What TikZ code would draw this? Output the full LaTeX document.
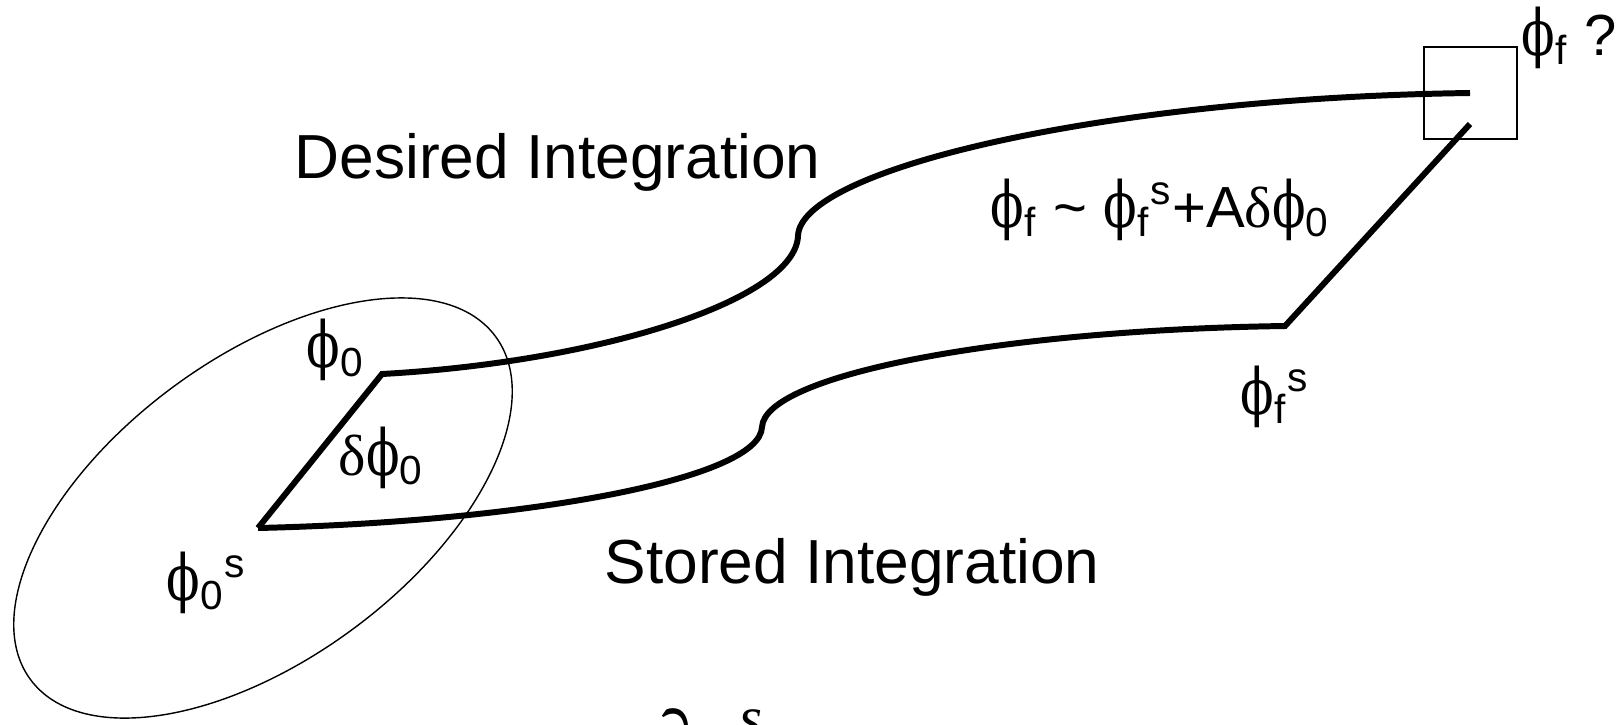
\documentclass[tikz,border=0pt]{standalone}
\usepackage{fontspec}
\setmainfont{Liberation Sans}
\newfontfamily\greekf{DejaVu Serif}
\newfontfamily\serif{Liberation Serif}
\newcommand\phiv{{\greekf\scalebox{0.85}[1.1]{ϕ}}}
\newcommand\deltav{{\serif δ}}

\begin{document}
\begin{tikzpicture}[x=0.01cm, y=-0.01cm,
  every node/.style={font=\fontsize{16.5}{20}\selectfont, inner sep=0pt},
  lbl/.style={anchor=base west},
  title/.style={lbl, font=\fontsize{17.7}{21}\selectfont},
  path/.style={line width=1.7pt, line join=miter},
  thin/.style={line width=0.4pt}
]
  \useasboundingbox (0,0) rectangle (1618,724);
  \clip (0,0) rectangle (1618,724);

  % end points of the two integrations
  \coordinate (p0) at (382,374);
  \coordinate (p0s) at (258,528);
  \coordinate (pbend) at (798,236);
  \coordinate (sbend) at (762,427);
  \coordinate (pf) at (1470,93);
  \coordinate (pfs) at (1285,326);
  \coordinate (pfsend) at (1470,124);

  % neighbourhood of the initial state
  \draw[thin, rotate around={36.4:(263,508)}] (263,508) ellipse [x radius=2.888cm, y radius=1.507cm];
  \node[draw, thin, minimum width=0.93cm, minimum height=0.92cm] (box) at (1470.5,93) {};

  % desired and stored paths
  \draw[path] (p0s) -- (p0)
    .. controls (600,362) and (795,300) .. (pbend)
    .. controls (800,170) and (1100,98) .. (pf);
  \draw[path] (p0s)
    .. controls (520,522) and (760,480) .. (sbend)
    .. controls (765,375) and (1000,330) .. (pfs) -- (pfsend);

  \node[title] (desired) at (294,178) {Desired Integration};
  \node[title] (stored) at (604,583) {Stored Integration};
  \node[lbl] (approx) at (990,227) {\phiv\textsubscript{f} \textasciitilde{} \phiv\textsubscript{f}\textsuperscript{s}+A\deltav\phiv\textsubscript{0}};
  \node[lbl] (target) at (1521,55) {\phiv\textsubscript{f} ?};
  \node[lbl] (stfinal) at (1240,414) {\phiv\textsubscript{f}\textsuperscript{s}};
  \node[lbl] (init) at (306,367) {\phiv\textsubscript{0}};
  \node[lbl] (delta) at (338,475) {\deltav\phiv\textsubscript{0}};
  \node[lbl] (stinit) at (166,600) {\phiv\textsubscript{0}\textsuperscript{s}};
  \node[lbl, font=\fontsize{24}{28}\serif] (deriv) at (650,769) {∂\textit{φ}\textsuperscript{\textit{s}}};
\end{tikzpicture}
\end{document}
